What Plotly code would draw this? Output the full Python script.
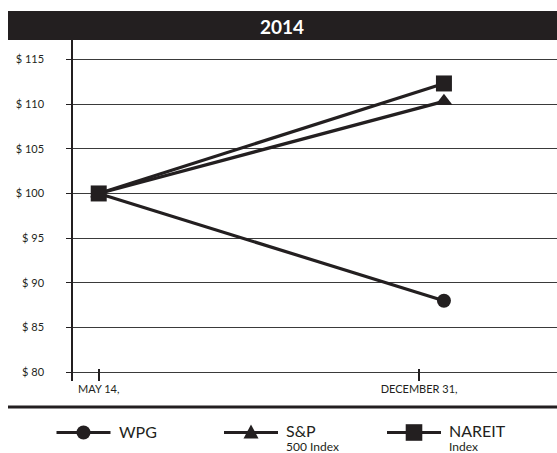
import plotly.graph_objects as go

# ---- data ----
x_pos = [0, 1]
tick_vals = [0, 0.928]
tick_text = ["MAY 14,", "DECEMBER 31,"]
wpg = [100, 88.0]
sp500 = [100, 110.3]
nareit = [100, 112.3]
y_ticks = [80, 85, 90, 95, 100, 105, 110, 115]
y_ticktext = ["$ 80", "$ 85", "$ 90", "$ 95", "$ 100", "$ 105", "$ 110", "$ 115"]
series_names = ["WPG", "S&P", "NAREIT"]
series_sub = ["", "500 Index", "Index"]
title_text = "2014"

INK = "#231f20"
FONT = "Lato"

W, H = 557, 453
ml, mr, mt, mb = 73, 0, 40, 72
pw, ph = W - ml - mr, H - mt - mb


def px_x(p):
    return (p - ml) / pw


def px_y(p):
    return (H - mb - p) / ph


fig = go.Figure()
styles = [("circle", 14), ("triangle-up", 15), ("square", 16)]
for name, vals, (sym, sz) in zip(series_names, [wpg, sp500, nareit], styles):
    fig.add_trace(go.Scatter(
        x=x_pos, y=vals, mode="lines+markers", name=name,
        line=dict(color=INK, width=3.2),
        marker=dict(symbol=sym, size=sz, color=INK),
        showlegend=False,
    ))

# ---- frame decorations ----
shapes = [
    dict(type="rect", xref="paper", yref="paper",
         x0=px_x(8), x1=px_x(557), y0=px_y(40), y1=px_y(11),
         fillcolor=INK, line=dict(width=0), layer="above"),
    dict(type="line", xref="paper", yref="paper",
         x0=px_x(8), x1=px_x(557), y0=px_y(407), y1=px_y(407),
         line=dict(color=INK, width=3)),
]
annotations = [
    dict(text="<b>" + title_text + "</b>", xref="paper", yref="paper",
         x=px_x(282), y=px_y(26), showarrow=False,
         font=dict(size=19, color="white", family=FONT),
         xanchor="center", yanchor="middle"),
]

# ---- legend (drawn in pixel space) ----
leg_y = 432.5
leg_centers = [83.5, 251, 414]
for i, (name, sub, (sym, sz)) in enumerate(zip(series_names, series_sub, styles)):
    cx = leg_centers[i]
    shapes.append(dict(type="line", xref="paper", yref="paper",
                       x0=px_x(cx - 27), x1=px_x(cx + 27),
                       y0=px_y(leg_y), y1=px_y(leg_y),
                       line=dict(color=INK, width=3)))
    if sym == "circle":
        r = 7
        shapes.append(dict(type="circle", xref="paper", yref="paper",
                           x0=px_x(cx - r), x1=px_x(cx + r),
                           y0=px_y(leg_y + r), y1=px_y(leg_y - r),
                           fillcolor=INK, line=dict(width=0)))
    elif sym == "square":
        r = 8.3
        shapes.append(dict(type="rect", xref="paper", yref="paper",
                           x0=px_x(cx - r), x1=px_x(cx + r),
                           y0=px_y(leg_y + r), y1=px_y(leg_y - r),
                           fillcolor=INK, line=dict(width=0)))
    else:
        hw = 7.5
        path = "M{:.4f},{:.4f} L{:.4f},{:.4f} L{:.4f},{:.4f} Z".format(
            px_x(cx - hw), px_y(leg_y + 6),
            px_x(cx + hw), px_y(leg_y + 6),
            px_x(cx), px_y(leg_y - 8))
        shapes.append(dict(type="path", xref="paper", yref="paper", path=path,
                           fillcolor=INK, line=dict(width=0)))
    if sub:
        txt = ("<span style='font-size:16px'>" + name + "</span><br>"
               "<span style='font-size:12px'>" + sub + "</span>")
        annotations.append(dict(
            text=txt, xref="paper", yref="paper", x=px_x(cx + 33), y=px_y(leg_y - 13),
            showarrow=False, xanchor="left", yanchor="top", align="left",
            font=dict(size=10.5, color=INK, family=FONT)))
    else:
        annotations.append(dict(
            text=name, xref="paper", yref="paper", x=px_x(cx + 33), y=px_y(leg_y - 1),
            showarrow=False, xanchor="left", yanchor="middle",
            font=dict(size=16, color=INK, family=FONT)))

fig.update_layout(
    width=W, height=H,
    margin=dict(l=ml, r=mr, t=mt, b=mb, autoexpand=False),
    paper_bgcolor="white", plot_bgcolor="white",
    font=dict(family=FONT, color=INK),
    showlegend=False,
    xaxis=dict(
        range=[-0.0745, 1.3275], tickvals=tick_vals, ticktext=tick_text,
        showgrid=False, zeroline=False, showline=False,
        ticks="inside", ticklen=12, tickwidth=1.5, tickcolor=INK,
        tickfont=dict(size=11, color=INK), fixedrange=True,
    ),
    yaxis=dict(
        range=[79.03, 117.16], tickvals=y_ticks, ticktext=y_ticktext,
        showgrid=True, gridcolor="#3a3a3a", gridwidth=1,
        zeroline=False, showline=True, linecolor=INK, linewidth=1.5,
        ticks="outside", ticklen=5, tickcolor=INK,
        tickfont=dict(size=11, color=INK), ticklabelstandoff=20,
    ),
    shapes=shapes,
    annotations=annotations,
)

fig.write_html("out.html")
